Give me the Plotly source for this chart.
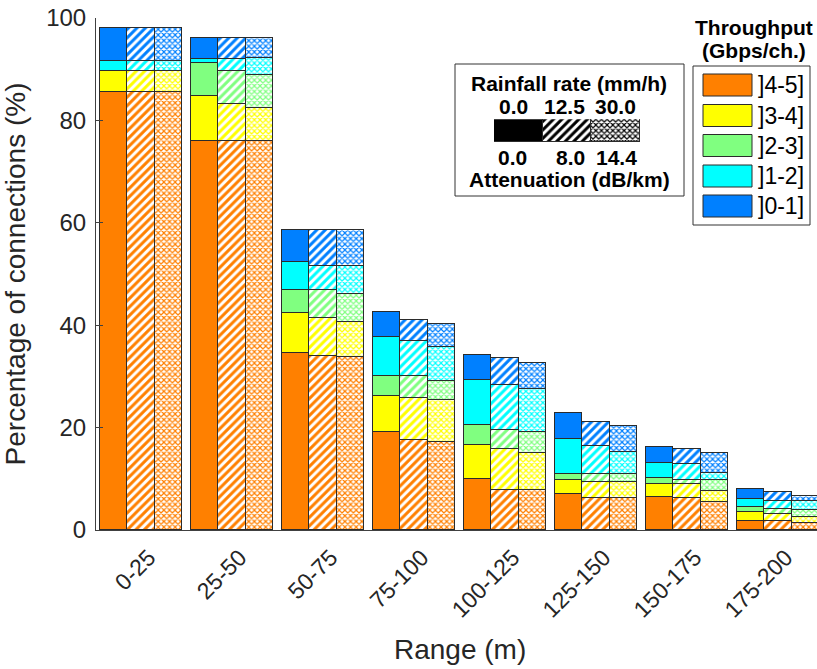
import plotly.graph_objects as go

# ---------------- data ----------------
categories = ["0-25", "25-50", "50-75", "75-100", "100-125", "125-150", "150-175", "175-200"]
rain_rates = ["0.0", "12.5", "30.0"]          # mm/h
attenuations = ["0.0", "8.0", "14.4"]         # dB/km
classes = ["]4-5]", "]3-4]", "]2-3]", "]1-2]", "]0-1]"]
colors = ["#FF8000", "#FFFF00", "#80FF80", "#00FFFF", "#0080FF"]

# segment heights (%) for rain rate 0.0 mm/h
r0_45 = [85.5, 76.0, 34.5, 19.1, 9.9, 7.0, 6.4, 1.7]
r0_34 = [4.1, 8.8, 7.8, 7.1, 6.8, 2.7, 2.6, 1.8]
r0_23 = [0.0, 6.5, 4.6, 3.8, 3.9, 1.2, 1.2, 0.9]
r0_12 = [2.1, 0.7, 5.5, 7.6, 8.7, 6.9, 2.8, 1.7]
r0_01 = [6.3, 4.0, 6.1, 5.0, 4.8, 5.0, 3.3, 2.0]
# rain rate 12.5 mm/h
r1_45 = [85.5, 76.0, 34.0, 17.5, 7.9, 6.3, 6.2, 1.8]
r1_34 = [4.1, 7.2, 7.5, 8.2, 8.0, 3.1, 2.8, 1.3]
r1_23 = [0.0, 6.4, 5.4, 4.3, 3.7, 1.5, 0.8, 1.1]
r1_12 = [2.1, 2.4, 4.7, 6.9, 8.7, 5.6, 3.0, 1.5]
r1_01 = [6.3, 4.0, 6.9, 4.1, 5.2, 4.6, 3.0, 1.7]
# rain rate 30.0 mm/h
r2_45 = [85.5, 76.0, 33.8, 17.1, 7.9, 6.3, 5.5, 1.3]
r2_34 = [4.1, 6.4, 6.9, 8.2, 7.1, 3.1, 2.1, 1.3]
r2_23 = [0.0, 6.5, 5.4, 3.9, 4.2, 1.5, 2.2, 1.3]
r2_12 = [2.1, 3.2, 5.5, 6.6, 8.3, 4.4, 1.3, 1.8]
r2_01 = [6.3, 3.9, 6.9, 4.4, 5.1, 5.0, 3.9, 0.9]

rain_series = [
    [r0_45, r0_34, r0_23, r0_12, r0_01],
    [r1_45, r1_34, r1_23, r1_12, r1_01],
    [r2_45, r2_34, r2_23, r2_12, r2_01],
]

# ---------------- styling ----------------
W, H = 817, 669
ML, MR, MT, MB = 96, 0, 18, 139
PW, PH = W - ML - MR, H - MT - MB
FONT = "Arial, Liberation Sans, Helvetica, sans-serif"
EDGE = "#2b2b2b"
BAR_W = 0.3
offsets = [-BAR_W, 0.0, BAR_W]


def px(x):
    return (x - ML) / PW


def py(y):
    return (H - MB - y) / PH


def pattern_for(k, col):
    if k == 0:
        return None
    if k == 1:
        return dict(shape="/", fgcolor=col, bgcolor="white", size=6, solidity=0.5, fgopacity=1)
    return dict(shape="x", fgcolor=col, bgcolor="white", size=4, solidity=0.5, fgopacity=1)


fig = go.Figure()
groups = list(range(len(categories)))
for k, series in enumerate(rain_series):
    xs = [g + offsets[k] for g in groups]
    for c, vals in enumerate(series):
        marker = dict(color=colors[c], line=dict(color=EDGE, width=1))
        pat = pattern_for(k, colors[c])
        if pat is not None:
            marker["pattern"] = pat
        fig.add_trace(go.Bar(
            x=xs, y=vals, width=BAR_W, marker=marker,
            name=classes[c] + " @ " + rain_rates[k] + " mm/h",
            showlegend=False, xaxis="x", yaxis="y",
        ))

# rainfall legend swatches on an inset axis
for k in range(3):
    marker = dict(color="black", line=dict(color=EDGE, width=1))
    pat = pattern_for(k, "black")
    if pat is not None:
        marker["pattern"] = pat
    fig.add_trace(go.Bar(
        x=[k], y=[1], width=1, marker=marker, showlegend=False,
        xaxis="x2", yaxis="y2", hoverinfo="skip",
    ))

shapes = []
annotations = []

# rainfall box
shapes.append(dict(type="rect", xref="paper", yref="paper",
                   x0=px(455), x1=px(684), y0=py(196), y1=py(64),
                   line=dict(color="#333333", width=1), fillcolor="white", layer="below"))
lg_font = dict(family=FONT, size=21, color="black")
annotations.append(dict(text="<b>Rainfall rate (mm/h)</b>", x=px(569), y=py(83), xref="paper", yref="paper",
                        showarrow=False, font=lg_font, xanchor="center", yanchor="middle"))
annotations.append(dict(text="<b>Attenuation (dB/km)</b>", x=px(569), y=py(179), xref="paper", yref="paper",
                        showarrow=False, font=lg_font, xanchor="center", yanchor="middle"))
top_x = [513, 564, 615]
bot_x = [512, 570, 616]
for k in range(3):
    annotations.append(dict(text="<b>" + rain_rates[k] + "</b>", x=px(top_x[k]), y=py(106),
                            xref="paper", yref="paper", showarrow=False, font=lg_font,
                            xanchor="center", yanchor="middle"))
    annotations.append(dict(text="<b>" + attenuations[k] + "</b>", x=px(bot_x[k]), y=py(157),
                            xref="paper", yref="paper", showarrow=False, font=lg_font,
                            xanchor="center", yanchor="middle"))

# throughput legend
annotations.append(dict(text="<b>Throughput</b>", x=px(754), y=py(27), xref="paper", yref="paper",
                        showarrow=False, font=lg_font, xanchor="center", yanchor="middle"))
annotations.append(dict(text="<b>(Gbps/ch.)</b>", x=px(754), y=py(50), xref="paper", yref="paper",
                        showarrow=False, font=lg_font, xanchor="center", yanchor="middle"))
shapes.append(dict(type="rect", xref="paper", yref="paper",
                   x0=px(693), x1=px(810), y0=py(225), y1=py(66),
                   line=dict(color="#333333", width=1), fillcolor="white", layer="below"))
row_y = [85, 115.5, 145.5, 176, 206]
for c in range(5):
    shapes.append(dict(type="rect", xref="paper", yref="paper",
                       x0=px(703), x1=px(752), y0=py(row_y[c] + 11), y1=py(row_y[c] - 11),
                       line=dict(color=EDGE, width=1), fillcolor=colors[c], layer="above"))
    annotations.append(dict(text=classes[c], x=px(756), y=py(row_y[c]), xref="paper", yref="paper",
                            showarrow=False, font=dict(family=FONT, size=23, color="black"),
                            xanchor="left", yanchor="middle"))

# x-axis title
annotations.append(dict(text="Range (m)", x=px(460), y=py(649), xref="paper", yref="paper",
                        showarrow=False, font=dict(family=FONT, size=28, color="#262626"),
                        xanchor="center", yanchor="middle"))

fig.update_layout(
    width=W, height=H,
    margin=dict(l=ML, r=MR, t=MT, b=MB, autoexpand=False),
    paper_bgcolor="white", plot_bgcolor="white",
    barmode="stack", bargap=0,
    font=dict(family=FONT, color="#262626"),
    shapes=shapes, annotations=annotations,
    xaxis=dict(
        range=[-0.495, 7.43], tickmode="array", tickvals=groups, ticktext=categories,
        tickangle=-45, tickfont=dict(size=23, color="#262626"),
        ticklabelstandoff=4, ticklabelshift=8,
        showline=True, linecolor="#404040", linewidth=1, ticks="", showgrid=False, zeroline=False,
        automargin=False,
    ),
    yaxis=dict(
        range=[0, 100], tickmode="array", tickvals=[0, 20, 40, 60, 80, 100],
        tickfont=dict(size=24, color="#262626"),
        showline=True, linecolor="#404040", linewidth=1, ticks="inside", ticklen=7,
        tickcolor="#404040", showgrid=False, zeroline=False, ticklabelstandoff=4,
        title=dict(text="Percentage of connections (%)", font=dict(size=28, color="#262626"), standoff=15),
        automargin=False,
    ),
    xaxis2=dict(domain=[px(494), px(640)], range=[-0.5, 2.5], anchor="y2",
                showticklabels=False, showgrid=False, zeroline=False, showline=False, fixedrange=True),
    yaxis2=dict(domain=[py(142.7), py(119.3)], range=[0, 1], anchor="x2",
                showticklabels=False, showgrid=False, zeroline=False, showline=False, fixedrange=True),
)

fig.write_html("out.html")
